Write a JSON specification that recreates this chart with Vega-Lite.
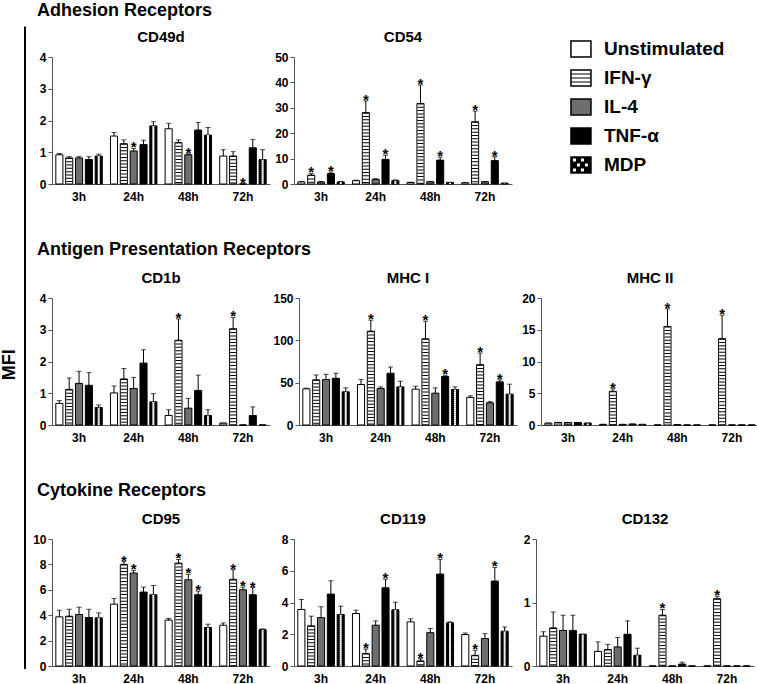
{
"$schema": "https://vega.github.io/schema/vega-lite/v6.json",
"padding": {"top": 2, "left": 0, "right": 0, "bottom": 0},
"config": {
 "font": "Liberation Sans",
 "view": {"stroke": null},
 "title": {"fontSize": 15, "fontWeight": "bold", "offset": 6, "color": "black"},
 "axis": {"labelFontSize": 12, "labelFontWeight": "bold", "labelColor": "black", "domainColor": "#555", "tickColor": "#555", "grid": false, "title": null},
 "axisX": {"ticks": false, "labelAngle": 0, "labelPadding": 7},
 "axisY": {"tickSize": 4, "labelPadding": 2, "minExtent": 22, "maxExtent": 22}
},
"datasets": {
 "d": [
  {"p":"CD49d","t":"3h","c":"Unstimulated","v":0.92,"h":0.96,"s":0},
  {"p":"CD49d","t":"3h","c":"IFN-γ","v":0.82,"h":0.86,"s":0},
  {"p":"CD49d","t":"3h","c":"IL-4","v":0.82,"h":0.86,"s":0},
  {"p":"CD49d","t":"3h","c":"TNF-α","v":0.77,"h":0.86,"s":0},
  {"p":"CD49d","t":"3h","c":"MDP","v":0.88,"h":0.94,"s":0},
  {"p":"CD49d","t":"24h","c":"Unstimulated","v":1.51,"h":1.62,"s":0},
  {"p":"CD49d","t":"24h","c":"IFN-γ","v":1.27,"h":1.39,"s":0},
  {"p":"CD49d","t":"24h","c":"IL-4","v":1.04,"h":1.12,"s":1},
  {"p":"CD49d","t":"24h","c":"TNF-α","v":1.24,"h":1.38,"s":0},
  {"p":"CD49d","t":"24h","c":"MDP","v":1.83,"h":1.96,"s":0},
  {"p":"CD49d","t":"48h","c":"Unstimulated","v":1.74,"h":1.91,"s":0},
  {"p":"CD49d","t":"48h","c":"IFN-γ","v":1.31,"h":1.39,"s":0},
  {"p":"CD49d","t":"48h","c":"IL-4","v":0.92,"h":0.95,"s":1},
  {"p":"CD49d","t":"48h","c":"TNF-α","v":1.70,"h":1.94,"s":0},
  {"p":"CD49d","t":"48h","c":"MDP","v":1.54,"h":1.78,"s":0},
  {"p":"CD49d","t":"72h","c":"Unstimulated","v":0.88,"h":1.08,"s":0},
  {"p":"CD49d","t":"72h","c":"IFN-γ","v":0.88,"h":1.02,"s":0},
  {"p":"CD49d","t":"72h","c":"IL-4","v":0,"h":0,"s":1},
  {"p":"CD49d","t":"72h","c":"TNF-α","v":1.14,"h":1.40,"s":0},
  {"p":"CD49d","t":"72h","c":"MDP","v":0.77,"h":1.08,"s":0},

  {"p":"CD54","t":"3h","c":"Unstimulated","v":0.8,"h":1.0,"s":0},
  {"p":"CD54","t":"3h","c":"IFN-γ","v":3.5,"h":4.2,"s":1},
  {"p":"CD54","t":"3h","c":"IL-4","v":0.8,"h":1.0,"s":0},
  {"p":"CD54","t":"3h","c":"TNF-α","v":4.1,"h":4.7,"s":1},
  {"p":"CD54","t":"3h","c":"MDP","v":0.8,"h":1.0,"s":0},
  {"p":"CD54","t":"24h","c":"Unstimulated","v":1.3,"h":1.5,"s":0},
  {"p":"CD54","t":"24h","c":"IFN-γ","v":28.1,"h":32.7,"s":1},
  {"p":"CD54","t":"24h","c":"IL-4","v":1.8,"h":2.1,"s":0},
  {"p":"CD54","t":"24h","c":"TNF-α","v":9.7,"h":11.3,"s":1},
  {"p":"CD54","t":"24h","c":"MDP","v":1.3,"h":1.6,"s":0},
  {"p":"CD54","t":"48h","c":"Unstimulated","v":0.6,"h":0.7,"s":0},
  {"p":"CD54","t":"48h","c":"IFN-γ","v":31.7,"h":39.0,"s":1},
  {"p":"CD54","t":"48h","c":"IL-4","v":0.9,"h":1.0,"s":0},
  {"p":"CD54","t":"48h","c":"TNF-α","v":9.4,"h":10.6,"s":1},
  {"p":"CD54","t":"48h","c":"MDP","v":0.6,"h":0.7,"s":0},
  {"p":"CD54","t":"72h","c":"Unstimulated","v":0.5,"h":0.6,"s":0},
  {"p":"CD54","t":"72h","c":"IFN-γ","v":24.5,"h":28.7,"s":1},
  {"p":"CD54","t":"72h","c":"IL-4","v":0.9,"h":1.0,"s":0},
  {"p":"CD54","t":"72h","c":"TNF-α","v":9.2,"h":10.7,"s":1},
  {"p":"CD54","t":"72h","c":"MDP","v":0.3,"h":0.4,"s":0},

  {"p":"CD1b","t":"3h","c":"Unstimulated","v":0.68,"h":0.77,"s":0},
  {"p":"CD1b","t":"3h","c":"IFN-γ","v":1.12,"h":1.48,"s":0},
  {"p":"CD1b","t":"3h","c":"IL-4","v":1.31,"h":1.69,"s":0},
  {"p":"CD1b","t":"3h","c":"TNF-α","v":1.25,"h":1.65,"s":0},
  {"p":"CD1b","t":"3h","c":"MDP","v":0.55,"h":0.63,"s":0},
  {"p":"CD1b","t":"24h","c":"Unstimulated","v":1.01,"h":1.23,"s":0},
  {"p":"CD1b","t":"24h","c":"IFN-γ","v":1.45,"h":1.78,"s":0},
  {"p":"CD1b","t":"24h","c":"IL-4","v":1.15,"h":1.50,"s":0},
  {"p":"CD1b","t":"24h","c":"TNF-α","v":1.95,"h":2.37,"s":0},
  {"p":"CD1b","t":"24h","c":"MDP","v":0.73,"h":0.99,"s":0},
  {"p":"CD1b","t":"48h","c":"Unstimulated","v":0.30,"h":0.48,"s":0},
  {"p":"CD1b","t":"48h","c":"IFN-γ","v":2.67,"h":3.34,"s":1},
  {"p":"CD1b","t":"48h","c":"IL-4","v":0.53,"h":0.84,"s":0},
  {"p":"CD1b","t":"48h","c":"TNF-α","v":1.09,"h":1.57,"s":0},
  {"p":"CD1b","t":"48h","c":"MDP","v":0.30,"h":0.48,"s":0},
  {"p":"CD1b","t":"72h","c":"Unstimulated","v":0.06,"h":0.06,"s":0},
  {"p":"CD1b","t":"72h","c":"IFN-γ","v":3.03,"h":3.39,"s":1},
  {"p":"CD1b","t":"72h","c":"IL-4","v":0,"h":0,"s":0},
  {"p":"CD1b","t":"72h","c":"TNF-α","v":0.30,"h":0.57,"s":0},
  {"p":"CD1b","t":"72h","c":"MDP","v":0,"h":0,"s":0},

  {"p":"MHC I","t":"3h","c":"Unstimulated","v":42.7,"h":43.5,"s":0},
  {"p":"MHC I","t":"3h","c":"IFN-γ","v":53.3,"h":59.1,"s":0},
  {"p":"MHC I","t":"3h","c":"IL-4","v":53.7,"h":59.9,"s":0},
  {"p":"MHC I","t":"3h","c":"TNF-α","v":55.2,"h":61.1,"s":0},
  {"p":"MHC I","t":"3h","c":"MDP","v":39.2,"h":43.9,"s":0},
  {"p":"MHC I","t":"24h","c":"Unstimulated","v":47.8,"h":53.7,"s":0},
  {"p":"MHC I","t":"24h","c":"IFN-γ","v":110.8,"h":123.8,"s":1},
  {"p":"MHC I","t":"24h","c":"IL-4","v":43.1,"h":45.0,"s":0},
  {"p":"MHC I","t":"24h","c":"TNF-α","v":61.1,"h":68.5,"s":0},
  {"p":"MHC I","t":"24h","c":"MDP","v":45.0,"h":51.7,"s":0},
  {"p":"MHC I","t":"48h","c":"Unstimulated","v":42.3,"h":45.8,"s":0},
  {"p":"MHC I","t":"48h","c":"IFN-γ","v":101.8,"h":122.6,"s":1},
  {"p":"MHC I","t":"48h","c":"IL-4","v":37.6,"h":43.9,"s":0},
  {"p":"MHC I","t":"48h","c":"TNF-α","v":57.2,"h":58.8,"s":1},
  {"p":"MHC I","t":"48h","c":"MDP","v":41.9,"h":45.0,"s":0},
  {"p":"MHC I","t":"72h","c":"Unstimulated","v":32.5,"h":34.5,"s":0},
  {"p":"MHC I","t":"72h","c":"IFN-γ","v":71.3,"h":85.0,"s":1},
  {"p":"MHC I","t":"72h","c":"IL-4","v":26.2,"h":27.8,"s":0},
  {"p":"MHC I","t":"72h","c":"TNF-α","v":50.9,"h":53.3,"s":1},
  {"p":"MHC I","t":"72h","c":"MDP","v":36.4,"h":48.2,"s":0},

  {"p":"MHC II","t":"3h","c":"Unstimulated","v":0.3,"h":0.3,"s":0},
  {"p":"MHC II","t":"3h","c":"IFN-γ","v":0.4,"h":0.4,"s":0},
  {"p":"MHC II","t":"3h","c":"IL-4","v":0.4,"h":0.4,"s":0},
  {"p":"MHC II","t":"3h","c":"TNF-α","v":0.4,"h":0.4,"s":0},
  {"p":"MHC II","t":"3h","c":"MDP","v":0.3,"h":0.3,"s":0},
  {"p":"MHC II","t":"24h","c":"Unstimulated","v":0.1,"h":0.1,"s":0},
  {"p":"MHC II","t":"24h","c":"IFN-γ","v":5.3,"h":5.7,"s":1},
  {"p":"MHC II","t":"24h","c":"IL-4","v":0.1,"h":0.1,"s":0},
  {"p":"MHC II","t":"24h","c":"TNF-α","v":0.15,"h":0.15,"s":0},
  {"p":"MHC II","t":"24h","c":"MDP","v":0.1,"h":0.1,"s":0},
  {"p":"MHC II","t":"48h","c":"Unstimulated","v":0,"h":0,"s":0},
  {"p":"MHC II","t":"48h","c":"IFN-γ","v":15.5,"h":18.3,"s":1},
  {"p":"MHC II","t":"48h","c":"IL-4","v":0.05,"h":0.05,"s":0},
  {"p":"MHC II","t":"48h","c":"TNF-α","v":0,"h":0,"s":0},
  {"p":"MHC II","t":"48h","c":"MDP","v":0,"h":0,"s":0},
  {"p":"MHC II","t":"72h","c":"Unstimulated","v":0,"h":0,"s":0},
  {"p":"MHC II","t":"72h","c":"IFN-γ","v":13.6,"h":17.3,"s":1},
  {"p":"MHC II","t":"72h","c":"IL-4","v":0,"h":0,"s":0},
  {"p":"MHC II","t":"72h","c":"TNF-α","v":0,"h":0,"s":0},
  {"p":"MHC II","t":"72h","c":"MDP","v":0,"h":0,"s":0},

  {"p":"CD95","t":"3h","c":"Unstimulated","v":3.87,"h":4.39,"s":0},
  {"p":"CD95","t":"3h","c":"IFN-γ","v":3.92,"h":4.47,"s":0},
  {"p":"CD95","t":"3h","c":"IL-4","v":4.05,"h":4.63,"s":0},
  {"p":"CD95","t":"3h","c":"TNF-α","v":3.82,"h":4.47,"s":0},
  {"p":"CD95","t":"3h","c":"MDP","v":3.79,"h":4.18,"s":0},
  {"p":"CD95","t":"24h","c":"Unstimulated","v":4.87,"h":5.32,"s":0},
  {"p":"CD95","t":"24h","c":"IFN-γ","v":8.0,"h":8.21,"s":1},
  {"p":"CD95","t":"24h","c":"IL-4","v":7.32,"h":7.53,"s":1},
  {"p":"CD95","t":"24h","c":"TNF-α","v":5.82,"h":6.21,"s":0},
  {"p":"CD95","t":"24h","c":"MDP","v":5.61,"h":6.34,"s":0},
  {"p":"CD95","t":"48h","c":"Unstimulated","v":3.61,"h":3.74,"s":0},
  {"p":"CD95","t":"48h","c":"IFN-γ","v":8.1,"h":8.39,"s":1},
  {"p":"CD95","t":"48h","c":"IL-4","v":6.79,"h":7.21,"s":1},
  {"p":"CD95","t":"48h","c":"TNF-α","v":5.61,"h":5.89,"s":1},
  {"p":"CD95","t":"48h","c":"MDP","v":3.03,"h":3.29,"s":0},
  {"p":"CD95","t":"72h","c":"Unstimulated","v":3.21,"h":3.39,"s":0},
  {"p":"CD95","t":"72h","c":"IFN-γ","v":6.82,"h":7.58,"s":1},
  {"p":"CD95","t":"72h","c":"IL-4","v":6.0,"h":6.21,"s":1},
  {"p":"CD95","t":"72h","c":"TNF-α","v":5.61,"h":6.18,"s":1},
  {"p":"CD95","t":"72h","c":"MDP","v":2.86,"h":2.92,"s":0},

  {"p":"CD119","t":"3h","c":"Unstimulated","v":3.56,"h":4.19,"s":0},
  {"p":"CD119","t":"3h","c":"IFN-γ","v":2.53,"h":3.14,"s":0},
  {"p":"CD119","t":"3h","c":"IL-4","v":3.05,"h":3.73,"s":0},
  {"p":"CD119","t":"3h","c":"TNF-α","v":4.53,"h":5.37,"s":0},
  {"p":"CD119","t":"3h","c":"MDP","v":3.24,"h":3.77,"s":0},
  {"p":"CD119","t":"24h","c":"Unstimulated","v":3.31,"h":3.52,"s":0},
  {"p":"CD119","t":"24h","c":"IFN-γ","v":0.78,"h":1.07,"s":1},
  {"p":"CD119","t":"24h","c":"IL-4","v":2.57,"h":2.84,"s":0},
  {"p":"CD119","t":"24h","c":"TNF-α","v":4.93,"h":5.47,"s":1},
  {"p":"CD119","t":"24h","c":"MDP","v":3.54,"h":4.02,"s":0},
  {"p":"CD119","t":"48h","c":"Unstimulated","v":2.78,"h":2.97,"s":0},
  {"p":"CD119","t":"48h","c":"IFN-γ","v":0.32,"h":0.46,"s":1},
  {"p":"CD119","t":"48h","c":"IL-4","v":2.1,"h":2.36,"s":0},
  {"p":"CD119","t":"48h","c":"TNF-α","v":5.79,"h":6.72,"s":1},
  {"p":"CD119","t":"48h","c":"MDP","v":2.72,"h":2.78,"s":0},
  {"p":"CD119","t":"72h","c":"Unstimulated","v":1.98,"h":2.08,"s":0},
  {"p":"CD119","t":"72h","c":"IFN-γ","v":0.67,"h":0.99,"s":1},
  {"p":"CD119","t":"72h","c":"IL-4","v":1.73,"h":2.04,"s":0},
  {"p":"CD119","t":"72h","c":"TNF-α","v":5.35,"h":6.21,"s":1},
  {"p":"CD119","t":"72h","c":"MDP","v":2.19,"h":2.46,"s":0},

  {"p":"CD132","t":"3h","c":"Unstimulated","v":0.47,"h":0.54,"s":0},
  {"p":"CD132","t":"3h","c":"IFN-γ","v":0.6,"h":0.85,"s":0},
  {"p":"CD132","t":"3h","c":"IL-4","v":0.56,"h":0.8,"s":0},
  {"p":"CD132","t":"3h","c":"TNF-α","v":0.56,"h":0.8,"s":0},
  {"p":"CD132","t":"3h","c":"MDP","v":0.5,"h":0.5,"s":0},
  {"p":"CD132","t":"24h","c":"Unstimulated","v":0.23,"h":0.38,"s":0},
  {"p":"CD132","t":"24h","c":"IFN-γ","v":0.26,"h":0.34,"s":0},
  {"p":"CD132","t":"24h","c":"IL-4","v":0.3,"h":0.45,"s":0},
  {"p":"CD132","t":"24h","c":"TNF-α","v":0.5,"h":0.71,"s":0},
  {"p":"CD132","t":"24h","c":"MDP","v":0.17,"h":0.28,"s":0},
  {"p":"CD132","t":"48h","c":"Unstimulated","v":0,"h":0,"s":0},
  {"p":"CD132","t":"48h","c":"IFN-γ","v":0.8,"h":0.89,"s":1},
  {"p":"CD132","t":"48h","c":"IL-4","v":0,"h":0,"s":0},
  {"p":"CD132","t":"48h","c":"TNF-α","v":0.03,"h":0.06,"s":0},
  {"p":"CD132","t":"48h","c":"MDP","v":0,"h":0,"s":0},
  {"p":"CD132","t":"72h","c":"Unstimulated","v":0,"h":0,"s":0},
  {"p":"CD132","t":"72h","c":"IFN-γ","v":1.06,"h":1.1,"s":1},
  {"p":"CD132","t":"72h","c":"IL-4","v":0,"h":0,"s":0},
  {"p":"CD132","t":"72h","c":"TNF-α","v":0,"h":0,"s":0},
  {"p":"CD132","t":"72h","c":"MDP","v":0,"h":0,"s":0}
 ],
 "leg": [{"c":"Unstimulated"},{"c":"IFN-γ"},{"c":"IL-4"},{"c":"TNF-α"},{"c":"MDP"}],
 "mfi": [{"a":0,"b":1.05,"m":0.497,"label":"MFI"}]
},
"spacing": 4,
"hconcat": [
 {
  "width": 25, "height": 612,
  "data": {"name": "mfi"},
  "layer": [
   {"mark": {"type": "rule", "strokeWidth": 2, "color": "black"},
    "encoding": {"x": {"datum": 1, "type": "quantitative", "scale": {"domain": [0, 1]}, "axis": null},
     "y": {"field": "a", "type": "quantitative", "scale": {"domain": [0, 1]}, "axis": null},
     "y2": {"field": "b"}}},
   {"mark": {"type": "text", "angle": 270, "fontSize": 18, "fontWeight": "bold", "baseline": "middle", "align": "center"},
    "encoding": {"x": {"datum": 0.4, "type": "quantitative", "scale": {"domain": [0, 1]}, "axis": null},
     "y": {"field": "m", "type": "quantitative", "scale": {"domain": [0, 1]}, "axis": null},
     "text": {"field": "label"}}}
  ]
 },
 {
  "spacing": 39,
  "vconcat": [
   {
    "title": {"text": "Adhesion Receptors", "anchor": "start", "fontSize": 18, "dx": 7, "offset": 10},
    "spacing": 2,
    "hconcat": [
     {
      "title": "CD49d", "width": 218, "height": 127,
      "data": {"name": "d"},
      "transform": [{"filter": "datum.p === 'CD49d'"}],
      "encoding": {
       "x": {"field": "t", "type": "nominal", "sort": ["3h","24h","48h","72h"], "scale": {"paddingInner": 0.15, "paddingOuter": 0.07}},
       "xOffset": {"field": "c", "type": "nominal", "sort": ["Unstimulated","IFN-γ","IL-4","TNF-α","MDP"], "scale": {"paddingInner": 0.28, "paddingOuter": 0}},
       "y": {"field": "v", "type": "quantitative", "scale": {"domain": [0, 4]}}
      },
      "layer": [
       {"mark": {"type": "bar", "stroke": "black", "strokeWidth": 1}, "encoding": {"fill": {"field": "c", "type": "nominal", "scale": {"domain": ["Unstimulated","IFN-γ","IL-4","TNF-α","MDP"], "range": ["white","white","#6e6e6e","black","black"]}, "legend": null}}},
       {"transform": [{"filter": "datum.c === 'IFN-γ'"}], "mark": {"type": "rule", "strokeWidth": 6, "strokeDash": [1, 2.3], "color": "black"}, "encoding": {"y2": {"datum": 0}}},
       {"transform": [{"filter": "datum.c === 'MDP'"}], "mark": {"type": "rule", "strokeWidth": 2, "strokeDash": [2, 2], "color": "white"}, "encoding": {"y2": {"datum": 0}, "xOffset": {"field": "c", "type": "nominal", "bandPosition": 0.3}}},
       {"transform": [{"filter": "datum.c === 'MDP'"}], "mark": {"type": "rule", "strokeWidth": 2, "strokeDash": [2, 2], "strokeDashOffset": 2, "color": "white"}, "encoding": {"y2": {"datum": 0}, "xOffset": {"field": "c", "type": "nominal", "bandPosition": 0.7}}},
       {"mark": {"type": "rule", "color": "black", "strokeWidth": 1}, "encoding": {"y2": {"field": "h"}}},
       {"mark": {"type": "tick", "color": "black", "thickness": 1, "size": 5}, "encoding": {"y": {"field": "h", "type": "quantitative", "scale": {"domain": [0, 4]}}}},
       {"transform": [{"filter": "datum.s === 1"}], "mark": {"type": "text", "text": "*", "fontSize": 15, "fontWeight": "bold", "baseline": "alphabetic", "dy": 4}, "encoding": {"y": {"field": "h", "type": "quantitative", "scale": {"domain": [0, 4]}}}}
      ]
     },
     {
      "title": "CD54", "width": 218, "height": 127,
      "data": {"name": "d"},
      "transform": [{"filter": "datum.p === 'CD54'"}],
      "encoding": {
       "x": {"field": "t", "type": "nominal", "sort": ["3h","24h","48h","72h"], "scale": {"paddingInner": 0.15, "paddingOuter": 0.07}},
       "xOffset": {"field": "c", "type": "nominal", "sort": ["Unstimulated","IFN-γ","IL-4","TNF-α","MDP"], "scale": {"paddingInner": 0.28, "paddingOuter": 0}},
       "y": {"field": "v", "type": "quantitative", "scale": {"domain": [0, 50]}}
      },
      "layer": [
       {"mark": {"type": "bar", "stroke": "black", "strokeWidth": 1}, "encoding": {"fill": {"field": "c", "type": "nominal", "scale": {"domain": ["Unstimulated","IFN-γ","IL-4","TNF-α","MDP"], "range": ["white","white","#6e6e6e","black","black"]}, "legend": null}}},
       {"transform": [{"filter": "datum.c === 'IFN-γ'"}], "mark": {"type": "rule", "strokeWidth": 6, "strokeDash": [1, 2.3], "color": "black"}, "encoding": {"y2": {"datum": 0}}},
       {"transform": [{"filter": "datum.c === 'MDP'"}], "mark": {"type": "rule", "strokeWidth": 2, "strokeDash": [2, 2], "color": "white"}, "encoding": {"y2": {"datum": 0}, "xOffset": {"field": "c", "type": "nominal", "bandPosition": 0.3}}},
       {"transform": [{"filter": "datum.c === 'MDP'"}], "mark": {"type": "rule", "strokeWidth": 2, "strokeDash": [2, 2], "strokeDashOffset": 2, "color": "white"}, "encoding": {"y2": {"datum": 0}, "xOffset": {"field": "c", "type": "nominal", "bandPosition": 0.7}}},
       {"mark": {"type": "rule", "color": "black", "strokeWidth": 1}, "encoding": {"y2": {"field": "h"}}},
       {"mark": {"type": "tick", "color": "black", "thickness": 1, "size": 5}, "encoding": {"y": {"field": "h", "type": "quantitative", "scale": {"domain": [0, 50]}}}},
       {"transform": [{"filter": "datum.s === 1"}], "mark": {"type": "text", "text": "*", "fontSize": 15, "fontWeight": "bold", "baseline": "alphabetic", "dy": 4}, "encoding": {"y": {"field": "h", "type": "quantitative", "scale": {"domain": [0, 50]}}}}
      ]
     },
     {
      "width": 240, "height": 116,
      "data": {"name": "leg"},
      "encoding": {
       "y": {"field": "c", "type": "nominal", "sort": ["Unstimulated","IFN-γ","IL-4","TNF-α","MDP"], "scale": {"type": "point", "padding": 0}, "axis": null}
      },
      "layer": [
       {"mark": {"type": "point", "shape": "M-1,-0.8H1V0.8H-1Z", "size": 400, "filled": true, "stroke": "black", "strokeWidth": 1.5, "opacity": 1, "yOffset": -8},
        "encoding": {"x": {"datum": 0.279, "type": "quantitative", "scale": {"domain": [0, 1]}, "axis": null},
         "fill": {"field": "c", "type": "nominal", "scale": {"domain": ["Unstimulated","IFN-γ","IL-4","TNF-α","MDP"], "range": ["white","white","#6e6e6e","black","black"]}, "legend": null}}},
       {"transform": [{"filter": "datum.c === 'IFN-γ'"}],
        "mark": {"type": "point", "shape": "M-1,-0.4H1M-1,0H1M-1,0.4H1", "size": 400, "filled": false, "stroke": "black", "strokeWidth": 1, "opacity": 1, "yOffset": -8},
        "encoding": {"x": {"datum": 0.279, "type": "quantitative", "scale": {"domain": [0, 1]}, "axis": null}}},
       {"transform": [{"filter": "datum.c === 'MDP'"}],
        "mark": {"type": "point", "shape": "M-0.8,-0.65h0.3v0.3h-0.3z M0.0,-0.65h0.3v0.3h-0.3z M-0.4,-0.15h0.3v0.3h-0.3z M0.4,-0.15h0.3v0.3h-0.3z M-0.8,0.35h0.3v0.3h-0.3z M0.0,0.35h0.3v0.3h-0.3z", "size": 400, "filled": true, "fill": "white", "strokeWidth": 0, "opacity": 1, "yOffset": -8},
        "encoding": {"x": {"datum": 0.279, "type": "quantitative", "scale": {"domain": [0, 1]}, "axis": null}}},
       {"mark": {"type": "text", "align": "left", "baseline": "middle", "fontSize": 19, "fontWeight": "bold", "yOffset": -8},
        "encoding": {"x": {"datum": 0.375, "type": "quantitative", "scale": {"domain": [0, 1]}, "axis": null}, "text": {"field": "c"}}}
      ]
     }
    ]
   },
   {
    "title": {"text": "Antigen Presentation Receptors", "anchor": "start", "fontSize": 18, "dx": 7, "offset": 12},
    "spacing": 2,
    "hconcat": [
     {
      "title": "CD1b", "width": 218, "height": 127,
      "data": {"name": "d"},
      "transform": [{"filter": "datum.p === 'CD1b'"}],
      "encoding": {
       "x": {"field": "t", "type": "nominal", "sort": ["3h","24h","48h","72h"], "scale": {"paddingInner": 0.15, "paddingOuter": 0.07}},
       "xOffset": {"field": "c", "type": "nominal", "sort": ["Unstimulated","IFN-γ","IL-4","TNF-α","MDP"], "scale": {"paddingInner": 0.28, "paddingOuter": 0}},
       "y": {"field": "v", "type": "quantitative", "scale": {"domain": [0, 4]}}
      },
      "layer": [
       {"mark": {"type": "bar", "stroke": "black", "strokeWidth": 1}, "encoding": {"fill": {"field": "c", "type": "nominal", "scale": {"domain": ["Unstimulated","IFN-γ","IL-4","TNF-α","MDP"], "range": ["white","white","#6e6e6e","black","black"]}, "legend": null}}},
       {"transform": [{"filter": "datum.c === 'IFN-γ'"}], "mark": {"type": "rule", "strokeWidth": 6, "strokeDash": [1, 2.3], "color": "black"}, "encoding": {"y2": {"datum": 0}}},
       {"transform": [{"filter": "datum.c === 'MDP'"}], "mark": {"type": "rule", "strokeWidth": 2, "strokeDash": [2, 2], "color": "white"}, "encoding": {"y2": {"datum": 0}, "xOffset": {"field": "c", "type": "nominal", "bandPosition": 0.3}}},
       {"transform": [{"filter": "datum.c === 'MDP'"}], "mark": {"type": "rule", "strokeWidth": 2, "strokeDash": [2, 2], "strokeDashOffset": 2, "color": "white"}, "encoding": {"y2": {"datum": 0}, "xOffset": {"field": "c", "type": "nominal", "bandPosition": 0.7}}},
       {"mark": {"type": "rule", "color": "black", "strokeWidth": 1}, "encoding": {"y2": {"field": "h"}}},
       {"mark": {"type": "tick", "color": "black", "thickness": 1, "size": 5}, "encoding": {"y": {"field": "h", "type": "quantitative", "scale": {"domain": [0, 4]}}}},
       {"transform": [{"filter": "datum.s === 1"}], "mark": {"type": "text", "text": "*", "fontSize": 15, "fontWeight": "bold", "baseline": "alphabetic", "dy": 4}, "encoding": {"y": {"field": "h", "type": "quantitative", "scale": {"domain": [0, 4]}}}}
      ]
     },
     {
      "title": "MHC I", "width": 218, "height": 127,
      "data": {"name": "d"},
      "transform": [{"filter": "datum.p === 'MHC I'"}],
      "encoding": {
       "x": {"field": "t", "type": "nominal", "sort": ["3h","24h","48h","72h"], "scale": {"paddingInner": 0.15, "paddingOuter": 0.07}},
       "xOffset": {"field": "c", "type": "nominal", "sort": ["Unstimulated","IFN-γ","IL-4","TNF-α","MDP"], "scale": {"paddingInner": 0.28, "paddingOuter": 0}},
       "y": {"field": "v", "type": "quantitative", "scale": {"domain": [0, 150]}}
      },
      "layer": [
       {"mark": {"type": "bar", "stroke": "black", "strokeWidth": 1}, "encoding": {"fill": {"field": "c", "type": "nominal", "scale": {"domain": ["Unstimulated","IFN-γ","IL-4","TNF-α","MDP"], "range": ["white","white","#6e6e6e","black","black"]}, "legend": null}}},
       {"transform": [{"filter": "datum.c === 'IFN-γ'"}], "mark": {"type": "rule", "strokeWidth": 6, "strokeDash": [1, 2.3], "color": "black"}, "encoding": {"y2": {"datum": 0}}},
       {"transform": [{"filter": "datum.c === 'MDP'"}], "mark": {"type": "rule", "strokeWidth": 2, "strokeDash": [2, 2], "color": "white"}, "encoding": {"y2": {"datum": 0}, "xOffset": {"field": "c", "type": "nominal", "bandPosition": 0.3}}},
       {"transform": [{"filter": "datum.c === 'MDP'"}], "mark": {"type": "rule", "strokeWidth": 2, "strokeDash": [2, 2], "strokeDashOffset": 2, "color": "white"}, "encoding": {"y2": {"datum": 0}, "xOffset": {"field": "c", "type": "nominal", "bandPosition": 0.7}}},
       {"mark": {"type": "rule", "color": "black", "strokeWidth": 1}, "encoding": {"y2": {"field": "h"}}},
       {"mark": {"type": "tick", "color": "black", "thickness": 1, "size": 5}, "encoding": {"y": {"field": "h", "type": "quantitative", "scale": {"domain": [0, 150]}}}},
       {"transform": [{"filter": "datum.s === 1"}], "mark": {"type": "text", "text": "*", "fontSize": 15, "fontWeight": "bold", "baseline": "alphabetic", "dy": 4}, "encoding": {"y": {"field": "h", "type": "quantitative", "scale": {"domain": [0, 150]}}}}
      ]
     },
     {
      "title": "MHC II", "width": 218, "height": 127,
      "data": {"name": "d"},
      "transform": [{"filter": "datum.p === 'MHC II'"}],
      "encoding": {
       "x": {"field": "t", "type": "nominal", "sort": ["3h","24h","48h","72h"], "scale": {"paddingInner": 0.15, "paddingOuter": 0.07}},
       "xOffset": {"field": "c", "type": "nominal", "sort": ["Unstimulated","IFN-γ","IL-4","TNF-α","MDP"], "scale": {"paddingInner": 0.28, "paddingOuter": 0}},
       "y": {"field": "v", "type": "quantitative", "scale": {"domain": [0, 20]}}
      },
      "layer": [
       {"mark": {"type": "bar", "stroke": "black", "strokeWidth": 1}, "encoding": {"fill": {"field": "c", "type": "nominal", "scale": {"domain": ["Unstimulated","IFN-γ","IL-4","TNF-α","MDP"], "range": ["white","white","#6e6e6e","black","black"]}, "legend": null}}},
       {"transform": [{"filter": "datum.c === 'IFN-γ'"}], "mark": {"type": "rule", "strokeWidth": 6, "strokeDash": [1, 2.3], "color": "black"}, "encoding": {"y2": {"datum": 0}}},
       {"transform": [{"filter": "datum.c === 'MDP'"}], "mark": {"type": "rule", "strokeWidth": 2, "strokeDash": [2, 2], "color": "white"}, "encoding": {"y2": {"datum": 0}, "xOffset": {"field": "c", "type": "nominal", "bandPosition": 0.3}}},
       {"transform": [{"filter": "datum.c === 'MDP'"}], "mark": {"type": "rule", "strokeWidth": 2, "strokeDash": [2, 2], "strokeDashOffset": 2, "color": "white"}, "encoding": {"y2": {"datum": 0}, "xOffset": {"field": "c", "type": "nominal", "bandPosition": 0.7}}},
       {"mark": {"type": "rule", "color": "black", "strokeWidth": 1}, "encoding": {"y2": {"field": "h"}}},
       {"mark": {"type": "tick", "color": "black", "thickness": 1, "size": 5}, "encoding": {"y": {"field": "h", "type": "quantitative", "scale": {"domain": [0, 20]}}}},
       {"transform": [{"filter": "datum.s === 1"}], "mark": {"type": "text", "text": "*", "fontSize": 15, "fontWeight": "bold", "baseline": "alphabetic", "dy": 4}, "encoding": {"y": {"field": "h", "type": "quantitative", "scale": {"domain": [0, 20]}}}}
      ]
     }
    ]
   },
   {
    "title": {"text": "Cytokine Receptors", "anchor": "start", "fontSize": 18, "dx": 7, "offset": 12},
    "spacing": 2,
    "hconcat": [
     {
      "title": "CD95", "width": 218, "height": 127,
      "data": {"name": "d"},
      "transform": [{"filter": "datum.p === 'CD95'"}],
      "encoding": {
       "x": {"field": "t", "type": "nominal", "sort": ["3h","24h","48h","72h"], "scale": {"paddingInner": 0.15, "paddingOuter": 0.07}},
       "xOffset": {"field": "c", "type": "nominal", "sort": ["Unstimulated","IFN-γ","IL-4","TNF-α","MDP"], "scale": {"paddingInner": 0.28, "paddingOuter": 0}},
       "y": {"field": "v", "type": "quantitative", "scale": {"domain": [0, 10]}}
      },
      "layer": [
       {"mark": {"type": "bar", "stroke": "black", "strokeWidth": 1}, "encoding": {"fill": {"field": "c", "type": "nominal", "scale": {"domain": ["Unstimulated","IFN-γ","IL-4","TNF-α","MDP"], "range": ["white","white","#6e6e6e","black","black"]}, "legend": null}}},
       {"transform": [{"filter": "datum.c === 'IFN-γ'"}], "mark": {"type": "rule", "strokeWidth": 6, "strokeDash": [1, 2.3], "color": "black"}, "encoding": {"y2": {"datum": 0}}},
       {"transform": [{"filter": "datum.c === 'MDP'"}], "mark": {"type": "rule", "strokeWidth": 2, "strokeDash": [2, 2], "color": "white"}, "encoding": {"y2": {"datum": 0}, "xOffset": {"field": "c", "type": "nominal", "bandPosition": 0.3}}},
       {"transform": [{"filter": "datum.c === 'MDP'"}], "mark": {"type": "rule", "strokeWidth": 2, "strokeDash": [2, 2], "strokeDashOffset": 2, "color": "white"}, "encoding": {"y2": {"datum": 0}, "xOffset": {"field": "c", "type": "nominal", "bandPosition": 0.7}}},
       {"mark": {"type": "rule", "color": "black", "strokeWidth": 1}, "encoding": {"y2": {"field": "h"}}},
       {"mark": {"type": "tick", "color": "black", "thickness": 1, "size": 5}, "encoding": {"y": {"field": "h", "type": "quantitative", "scale": {"domain": [0, 10]}}}},
       {"transform": [{"filter": "datum.s === 1"}], "mark": {"type": "text", "text": "*", "fontSize": 15, "fontWeight": "bold", "baseline": "alphabetic", "dy": 4}, "encoding": {"y": {"field": "h", "type": "quantitative", "scale": {"domain": [0, 10]}}}}
      ]
     },
     {
      "title": "CD119", "width": 218, "height": 127,
      "data": {"name": "d"},
      "transform": [{"filter": "datum.p === 'CD119'"}],
      "encoding": {
       "x": {"field": "t", "type": "nominal", "sort": ["3h","24h","48h","72h"], "scale": {"paddingInner": 0.15, "paddingOuter": 0.07}},
       "xOffset": {"field": "c", "type": "nominal", "sort": ["Unstimulated","IFN-γ","IL-4","TNF-α","MDP"], "scale": {"paddingInner": 0.28, "paddingOuter": 0}},
       "y": {"field": "v", "type": "quantitative", "scale": {"domain": [0, 8]}}
      },
      "layer": [
       {"mark": {"type": "bar", "stroke": "black", "strokeWidth": 1}, "encoding": {"fill": {"field": "c", "type": "nominal", "scale": {"domain": ["Unstimulated","IFN-γ","IL-4","TNF-α","MDP"], "range": ["white","white","#6e6e6e","black","black"]}, "legend": null}}},
       {"transform": [{"filter": "datum.c === 'IFN-γ'"}], "mark": {"type": "rule", "strokeWidth": 6, "strokeDash": [1, 2.3], "color": "black"}, "encoding": {"y2": {"datum": 0}}},
       {"transform": [{"filter": "datum.c === 'MDP'"}], "mark": {"type": "rule", "strokeWidth": 2, "strokeDash": [2, 2], "color": "white"}, "encoding": {"y2": {"datum": 0}, "xOffset": {"field": "c", "type": "nominal", "bandPosition": 0.3}}},
       {"transform": [{"filter": "datum.c === 'MDP'"}], "mark": {"type": "rule", "strokeWidth": 2, "strokeDash": [2, 2], "strokeDashOffset": 2, "color": "white"}, "encoding": {"y2": {"datum": 0}, "xOffset": {"field": "c", "type": "nominal", "bandPosition": 0.7}}},
       {"mark": {"type": "rule", "color": "black", "strokeWidth": 1}, "encoding": {"y2": {"field": "h"}}},
       {"mark": {"type": "tick", "color": "black", "thickness": 1, "size": 5}, "encoding": {"y": {"field": "h", "type": "quantitative", "scale": {"domain": [0, 8]}}}},
       {"transform": [{"filter": "datum.s === 1"}], "mark": {"type": "text", "text": "*", "fontSize": 15, "fontWeight": "bold", "baseline": "alphabetic", "dy": 4}, "encoding": {"y": {"field": "h", "type": "quantitative", "scale": {"domain": [0, 8]}}}}
      ]
     },
     {
      "title": "CD132", "width": 218, "height": 127,
      "data": {"name": "d"},
      "transform": [{"filter": "datum.p === 'CD132'"}],
      "encoding": {
       "x": {"field": "t", "type": "nominal", "sort": ["3h","24h","48h","72h"], "scale": {"paddingInner": 0.15, "paddingOuter": 0.07}},
       "xOffset": {"field": "c", "type": "nominal", "sort": ["Unstimulated","IFN-γ","IL-4","TNF-α","MDP"], "scale": {"paddingInner": 0.28, "paddingOuter": 0}},
       "y": {"field": "v", "type": "quantitative", "scale": {"domain": [0, 2]}, "axis": {"tickCount": 2}}
      },
      "layer": [
       {"mark": {"type": "bar", "stroke": "black", "strokeWidth": 1}, "encoding": {"fill": {"field": "c", "type": "nominal", "scale": {"domain": ["Unstimulated","IFN-γ","IL-4","TNF-α","MDP"], "range": ["white","white","#6e6e6e","black","black"]}, "legend": null}}},
       {"transform": [{"filter": "datum.c === 'IFN-γ'"}], "mark": {"type": "rule", "strokeWidth": 6, "strokeDash": [1, 2.3], "color": "black"}, "encoding": {"y2": {"datum": 0}}},
       {"transform": [{"filter": "datum.c === 'MDP'"}], "mark": {"type": "rule", "strokeWidth": 2, "strokeDash": [2, 2], "color": "white"}, "encoding": {"y2": {"datum": 0}, "xOffset": {"field": "c", "type": "nominal", "bandPosition": 0.3}}},
       {"transform": [{"filter": "datum.c === 'MDP'"}], "mark": {"type": "rule", "strokeWidth": 2, "strokeDash": [2, 2], "strokeDashOffset": 2, "color": "white"}, "encoding": {"y2": {"datum": 0}, "xOffset": {"field": "c", "type": "nominal", "bandPosition": 0.7}}},
       {"mark": {"type": "rule", "color": "black", "strokeWidth": 1}, "encoding": {"y2": {"field": "h"}}},
       {"mark": {"type": "tick", "color": "black", "thickness": 1, "size": 5}, "encoding": {"y": {"field": "h", "type": "quantitative", "scale": {"domain": [0, 2]}}}},
       {"transform": [{"filter": "datum.s === 1"}], "mark": {"type": "text", "text": "*", "fontSize": 15, "fontWeight": "bold", "baseline": "alphabetic", "dy": 4}, "encoding": {"y": {"field": "h", "type": "quantitative", "scale": {"domain": [0, 2]}}}}
      ]
     }
    ]
   }
  ]
 }
]
}
